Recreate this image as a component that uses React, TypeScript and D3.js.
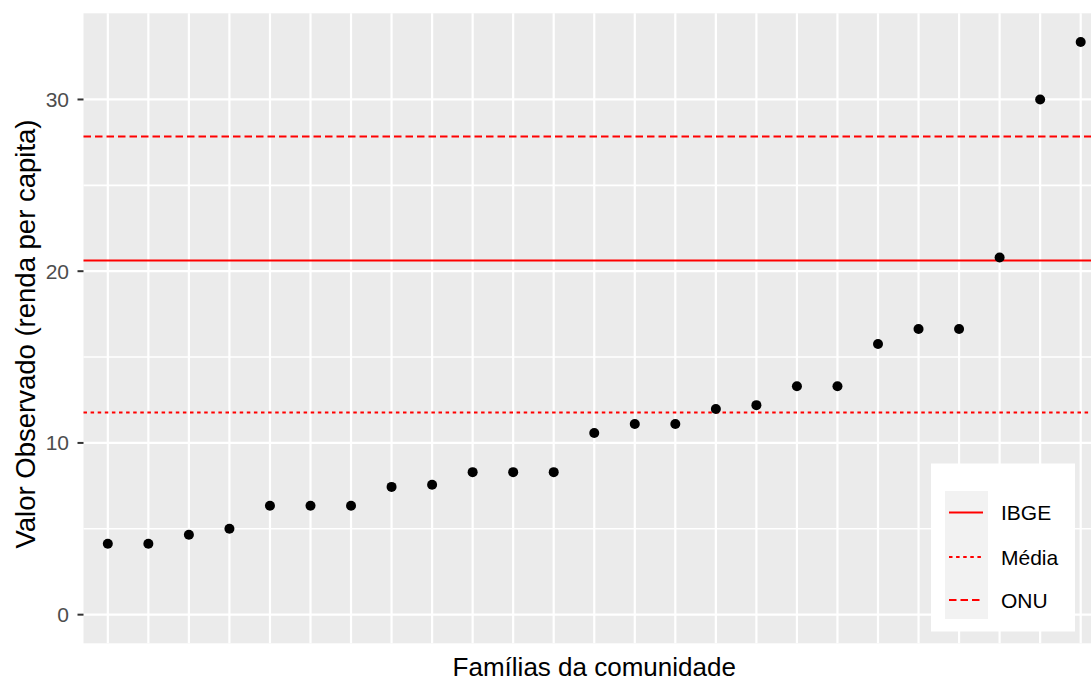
import React from "react";
import * as d3 from "d3";

const families: string[] = Array.from({ length: 25 }, (_, i) => `F${i + 1}`);
const incomeValues: number[] = [
  4.13, 4.13, 4.65, 5.0, 6.34, 6.34, 6.34, 7.44, 7.56, 8.3, 8.3, 8.3, 10.58,
  11.1, 11.1, 11.98, 12.2, 13.3, 13.3, 15.76, 16.63, 16.63, 20.8, 30.0, 33.35,
];
const refNames: string[] = ["IBGE", "Média", "ONU"];
const refValues: number[] = [20.62, 11.77, 27.85];
const yMajorTicks: number[] = [0, 10, 20, 30];
const yMinorTicks: number[] = [5, 15, 25];

const W = 1091;
const H = 682;
const panel = { left: 83.5, right: 1105, top: 13.3, bottom: 643.3 };
const dashes: Record<string, string | undefined> = {
  IBGE: undefined,
  "Média": "3.5 3.6",
  ONU: "7.5 4",
};
const FONT = "'Liberation Sans', Arial, sans-serif";

export default function App() {
  const x = d3
    .scalePoint<string>()
    .domain(families)
    .range([panel.left, panel.right])
    .padding(0.6);
  const yMax = d3.max(incomeValues) as number;
  const y = d3
    .scaleLinear()
    .domain([-0.05 * yMax, yMax * 1.05])
    .range([panel.bottom, panel.top]);

  const legend = { x: 931, y: 463.5, w: 144, h: 168 };
  const keyBox = { x: 945, y: 491, w: 43, h: 128 };
  const rowYs = [512.5, 557, 600];

  return (
    <svg
      width={W}
      height={H}
      style={{ position: "absolute", left: 0, top: 0, background: "#fff" }}
      fontFamily={FONT}
    >
      <rect
        x={panel.left}
        y={panel.top}
        width={panel.right - panel.left}
        height={panel.bottom - panel.top}
        fill="#EBEBEB"
      />
      {yMinorTicks.map((t) => (
        <line
          key={"mi" + t}
          x1={panel.left}
          x2={panel.right}
          y1={y(t)}
          y2={y(t)}
          stroke="#fff"
          strokeWidth={1.6}
        />
      ))}
      {yMajorTicks.map((t) => (
        <line
          key={"ma" + t}
          x1={panel.left}
          x2={panel.right}
          y1={y(t)}
          y2={y(t)}
          stroke="#fff"
          strokeWidth={2.2}
        />
      ))}
      {families.map((f) => (
        <line
          key={"v" + f}
          x1={x(f)}
          x2={x(f)}
          y1={panel.top}
          y2={panel.bottom}
          stroke="#fff"
          strokeWidth={2.2}
        />
      ))}
      {refNames.map((n, i) => (
        <line
          key={"r" + n}
          x1={panel.left}
          x2={panel.right}
          y1={y(refValues[i])}
          y2={y(refValues[i])}
          stroke="#FF0000"
          strokeWidth={2}
          strokeDasharray={dashes[n]}
        />
      ))}
      {families.map((f, i) => (
        <circle key={"p" + f} cx={x(f)} cy={y(incomeValues[i])} r={5} fill="#000" />
      ))}
      {yMajorTicks.map((t) => (
        <g key={"t" + t}>
          <line x1={77.5} x2={panel.left} y1={y(t)} y2={y(t)} stroke="#333" strokeWidth={2} />
          <text
            x={69}
            y={y(t)}
            dy="0.36em"
            textAnchor="end"
            fontSize={21}
            fill="#4D4D4D"
          >
            {t}
          </text>
        </g>
      ))}
      <text
        x={(panel.left + panel.right) / 2}
        y={676}
        textAnchor="middle"
        fontSize={26}
        fill="#000"
      >
        Famílias da comunidade
      </text>
      <text
        transform={`translate(35,334) rotate(-90)`}
        textAnchor="middle"
        fontSize={27.5}
        fill="#000"
      >
        Valor Observado (renda per capita)
      </text>
      <rect x={legend.x} y={legend.y} width={legend.w} height={legend.h} fill="#fff" />
      <rect x={keyBox.x} y={keyBox.y} width={keyBox.w} height={keyBox.h} fill="#F2F2F2" />
      {refNames.map((n, i) => (
        <g key={"l" + n}>
          <line
            x1={949}
            x2={983}
            y1={rowYs[i]}
            y2={rowYs[i]}
            stroke="#FF0000"
            strokeWidth={2}
            strokeDasharray={dashes[n]}
          />
          <text x={1001} y={rowYs[i]} dy="0.36em" fontSize={21} fill="#000">
            {n}
          </text>
        </g>
      ))}
    </svg>
  );
}
